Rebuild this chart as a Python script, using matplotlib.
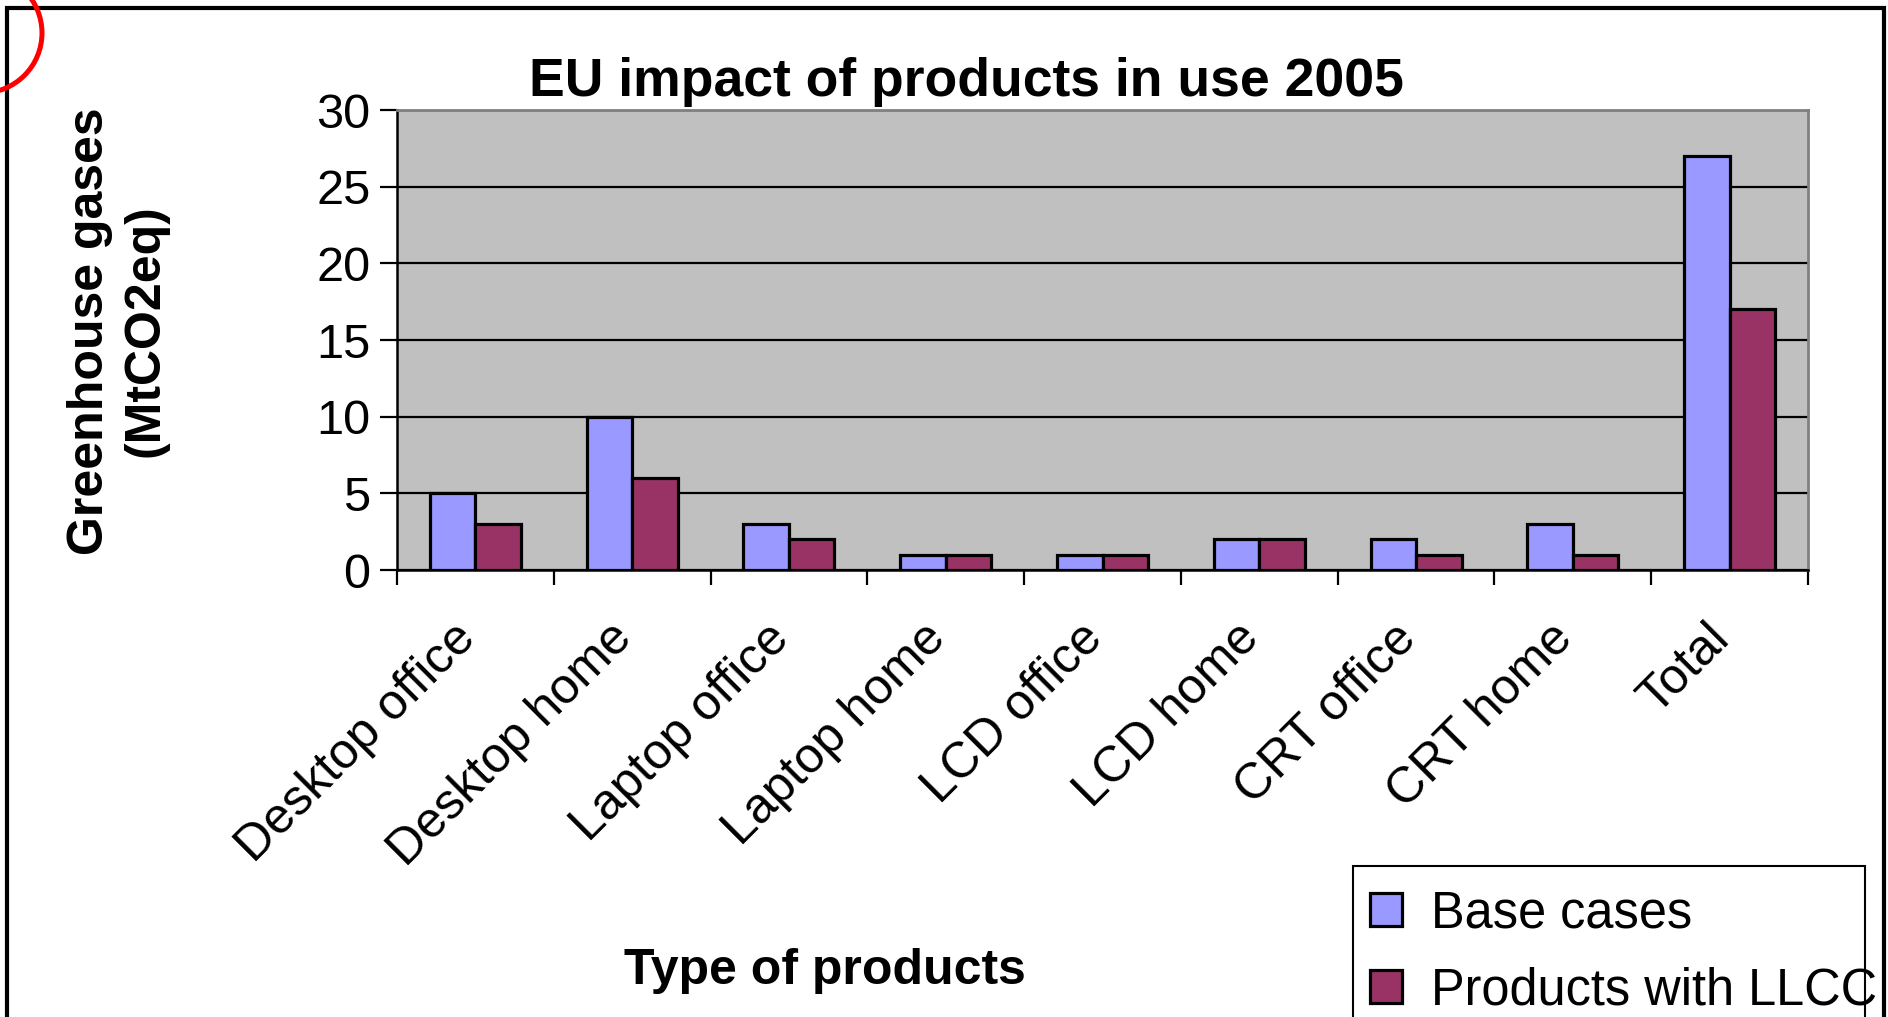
# %%
from matplotlib import pyplot as plt
from matplotlib import patches
from matplotlib.transforms import ScaledTranslation
import numpy as np

# %% data
categories = ['Desktop office', 'Desktop home', 'Laptop office', 'Laptop home',
              'LCD office', 'LCD home', 'CRT office', 'CRT home', 'Total']
base_cases = [5, 10, 3, 1, 1, 2, 2, 3, 27]
with_llcc = [3, 6, 2, 1, 1, 2, 1, 1, 17]
series_names = ['Base cases', 'Products with LLCC']
y_ticks = [0, 5, 10, 15, 20, 25, 30]

# %% constants
W_PX, H_PX = 1888, 1017
DPI = 100
COL_BASE = '#9999FF'
COL_LLCC = '#993366'
BAR_W = 0.29

plt.rcParams['font.family'] = ['Liberation Sans', 'DejaVu Sans']


def fx(px):
    return px / W_PX


def fy(py):
    return 1 - py / H_PX


# %%
fig = plt.figure(figsize=(W_PX / DPI, H_PX / DPI), dpi=DPI)
ax = fig.add_axes([fx(397), fy(570), fx(1808) - fx(397), fy(110) - fy(570)])
ax.set_facecolor('#C0C0C0')

x = np.arange(len(categories)) + 0.5
ax.bar(x - BAR_W / 2, base_cases, BAR_W, color=COL_BASE, edgecolor='black',
       linewidth=2.3, label=series_names[0], zorder=3)
ax.bar(x + BAR_W / 2, with_llcc, BAR_W, color=COL_LLCC, edgecolor='black',
       linewidth=2.3, label=series_names[1], zorder=3)

ax.set_xlim(0, len(categories))
ax.set_ylim(0, 30)
ax.set_yticks(y_ticks)
ax.tick_params(axis='y', labelsize=35, length=12, width=1.6, pad=7)
ax.yaxis.grid(True, color='black', linewidth=1.6, zorder=1)
ax.set_axisbelow(True)

# category boundaries get the tick marks, names sit at the centers
ax.set_xticks(np.arange(len(categories) + 1))
ax.set_xticklabels([])
ax.set_xticks(x, minor=True)
ax.set_xticklabels(categories, minor=True)
ax.tick_params(axis='x', which='major', length=11, width=1.6)
ax.tick_params(axis='x', which='minor', length=0, pad=44, labelsize=36)
shift = ScaledTranslation(-7 / DPI, 0, fig.dpi_scale_trans)
for lbl in ax.get_xticklabels(minor=True):
    lbl.set_rotation(45)
    lbl.set_ha('right')
    lbl.set_va('center')
    lbl.set_rotation_mode('anchor')
    lbl.set_transform(lbl.get_transform() + shift)

for side in ['top', 'right']:
    ax.spines[side].set_color('#808080')
    ax.spines[side].set_linewidth(2)
for side in ['left', 'bottom']:
    ax.spines[side].set_color('black')
    ax.spines[side].set_linewidth(1.8)

# %% texts
fig.text(fx(966), fy(82), 'EU impact of products in use 2005', fontsize=38.5,
         fontweight='bold', ha='center', va='center')
fig.text(fx(118), fy(331), 'Greenhouse gases\n(MtCO2eq)', fontsize=36,
         fontweight='bold', rotation=90, ha='center', va='center',
         multialignment='center', linespacing=1.25)
fig.text(fx(825), fy(971), 'Type of products', fontsize=36,
         fontweight='bold', ha='center', va='center')

# %% legend (frame drawn separately, text runs over it like the original)
leg = fig.legend(loc='upper left', bbox_to_anchor=(fx(1355), fy(874)),
                 frameon=False, fontsize=36.4, handlelength=0.62,
                 handleheight=0.62, handletextpad=0.58, labelspacing=0.56,
                 borderpad=0.3, borderaxespad=0)
for h in leg.legend_handles:
    h.set_linewidth(2.3)

fig.add_artist(patches.Rectangle((fx(1353), fy(1040)), fx(1865) - fx(1353),
                                 fy(866) - fy(1040), transform=fig.transFigure,
                                 fill=False, edgecolor='black', linewidth=1.5))

# outer slide frame and red mark in the corner
fig.add_artist(patches.Rectangle((fx(7), fy(1060)), fx(1884) - fx(7),
                                 fy(8) - fy(1060), transform=fig.transFigure,
                                 fill=False, edgecolor='black', linewidth=3))
fig.add_artist(patches.Ellipse((fx(-18), fy(33)), 120 / W_PX, 120 / H_PX,
                               transform=fig.transFigure, fill=False,
                               edgecolor='red', linewidth=3.6))

fig.savefig('out.png', dpi=DPI)
